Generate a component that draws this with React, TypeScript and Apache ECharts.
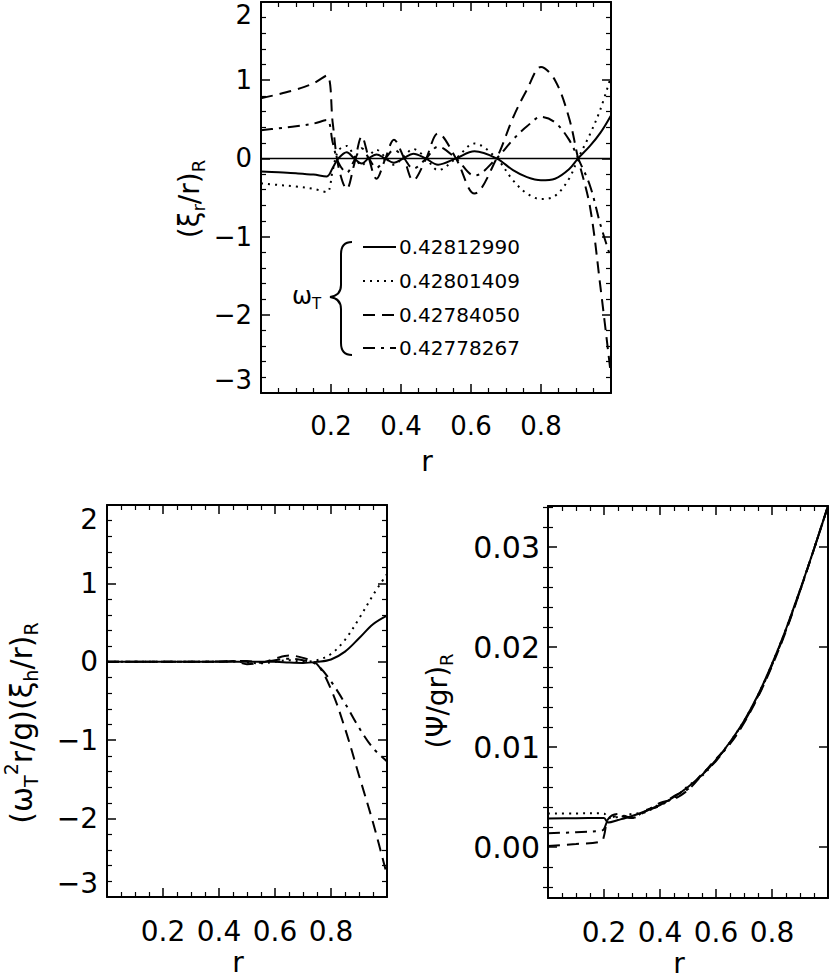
import React, { useEffect, useRef } from 'react';
import * as echarts from 'echarts';

const FONT = '"DejaVu Sans", "Liberation Sans", Arial, sans-serif';

// ---------- legend values (omega_T) ----------
const omegaLabels = ['0.42812990', '0.42801409', '0.42784050', '0.42778267'];

// ---------- top panel: (xi_r / r)_R ----------
const topR = [0, 0.05, 0.1, 0.15, 0.188, 0.205, 0.221, 0.245, 0.266, 0.288, 0.307, 0.33, 0.354, 0.38, 0.407, 0.435, 0.47, 0.506, 0.557, 0.61, 0.673, 0.72, 0.76, 0.8, 0.84, 0.88, 0.906, 0.94, 0.97, 1.0];
const topSolid = [-0.167, -0.178, -0.19, -0.207, -0.23, -0.12, 0.0, 0.08, 0.0, -0.065, 0.0, 0.05, 0.0, -0.055, 0.0, 0.06, 0.0, -0.08, 0.0, 0.09, 0.0, -0.15, -0.24, -0.28, -0.26, -0.14, 0.0, 0.16, 0.33, 0.55];
const topDotted = [-0.32, -0.34, -0.36, -0.39, -0.43, -0.15, 0.1, 0.16, 0.03, -0.09, 0.02, 0.11, 0.02, -0.08, 0.02, 0.12, 0.01, -0.15, 0.0, 0.19, 0.0, -0.28, -0.45, -0.52, -0.48, -0.26, 0.0, 0.31, 0.63, 1.05];
const topDashed = [0.77, 0.82, 0.88, 0.96, 1.06, 0.45, -0.1, -0.39, -0.08, 0.28, 0.02, -0.26, -0.02, 0.24, 0.02, -0.28, -0.02, 0.32, 0.0, -0.45, 0.0, 0.52, 0.88, 1.17, 1.0, 0.52, 0.0, -0.62, -1.65, -2.78];
const topDashDot = [0.36, 0.385, 0.41, 0.445, 0.49, 0.2, -0.05, -0.18, -0.03, 0.13, 0.01, -0.12, -0.01, 0.11, 0.01, -0.13, -0.01, 0.15, 0.0, -0.22, 0.0, 0.24, 0.41, 0.53, 0.46, 0.24, 0.0, -0.35, -0.85, -1.28];
const zeroLineR = [0, 1];
const zeroLineV = [0, 0];

// ---------- bottom-left: (omega_T^2 r/g)(xi_h/r)_R ----------
const botLR = [0, 0.1, 0.2, 0.3, 0.4, 0.45, 0.5, 0.55, 0.6, 0.65, 0.7, 0.75, 0.8, 0.85, 0.9, 0.95, 1.0];
const botLSolid = [0, 0, 0, 0, 0, 0, 0, 0, 0, -0.01, -0.015, 0.0, 0.03, 0.13, 0.3, 0.48, 0.59];
const botLDotted = [0, 0, 0, 0, 0, 0.005, -0.01, -0.02, 0.0, 0.02, 0.0, 0.02, 0.1, 0.28, 0.55, 0.85, 1.12];
const botLDashed = [0, 0, 0, 0, 0, 0.01, 0.01, -0.01, 0.04, 0.08, 0.05, -0.03, -0.35, -0.85, -1.45, -2.05, -2.72];
const botLDashDot = [0, 0, 0, 0, 0.005, 0.01, -0.03, -0.01, 0.02, 0.04, 0.02, -0.04, -0.25, -0.53, -0.84, -1.1, -1.27];

// ---------- bottom-right: (Psi/gr)_R ----------
const botRR = [0, 0.1, 0.19, 0.2, 0.215, 0.25, 0.3, 0.35, 0.4, 0.45, 0.5, 0.55, 0.6, 0.65, 0.7, 0.75, 0.8, 0.85, 0.9, 0.95, 1.0];
const botRSolid = [0.00285, 0.00288, 0.0029, 0.0029, 0.00245, 0.0027, 0.0031, 0.0036, 0.0042, 0.005, 0.006, 0.0072, 0.0087, 0.0105, 0.0126, 0.0152, 0.0183, 0.0218, 0.0257, 0.0298, 0.0341];
const botRDotted = [0.00335, 0.00336, 0.00337, 0.00336, 0.0029, 0.003, 0.0033, 0.0035, 0.0043, 0.0049, 0.0061, 0.0071, 0.0087, 0.0105, 0.0126, 0.0152, 0.0183, 0.0218, 0.0257, 0.0298, 0.0341];
const botRDashed = [0.0001, 0.0003, 0.00055, 0.0011, 0.0028, 0.0033, 0.0029, 0.0036, 0.0044, 0.0048, 0.0057, 0.0072, 0.0088, 0.0103, 0.0124, 0.015, 0.0181, 0.0216, 0.0256, 0.0298, 0.0341];
const botRDashDot = [0.00137, 0.00148, 0.00162, 0.0018, 0.0027, 0.0031, 0.0029, 0.0037, 0.0041, 0.0051, 0.0058, 0.0073, 0.0086, 0.0104, 0.0125, 0.0151, 0.0182, 0.0217, 0.0256, 0.0298, 0.0341];
const psiMajorTicks = [0, 0.01, 0.02, 0.03];
const psiMinorTicks = [-0.004, -0.002, 0.002, 0.004, 0.006, 0.008, 0.012, 0.014, 0.016, 0.018, 0.022, 0.024, 0.026, 0.028, 0.032, 0.034];

const DASHES: any[] = ['solid', [2, 5], [12, 7], [12, 6, 3, 6]];

const BRACE_D =
  'M 352 242 C 344 242 341 246 341 254 L 341 285 C 341 292 337 296 330 297 C 337 298 341 302 341 309 L 341 343 C 341 351 344 355 352 355';
let braceDone = false;
function ensureBrace() {
  if (braceDone) return;
  echarts.graphic.registerShape('omegaBrace', echarts.graphic.extendPath(BRACE_D, {}) as any);
  braceDone = true;
}

const pairs = (xs: number[], ys: number[]) => xs.map((x, i) => [x, ys[i]]);
const minus = (v: number) => (v < 0 ? '\u2212' + Math.abs(v) : String(v));

const lineCommon = { color: '#000', width: 2 };
const tickLine = { color: '#000', width: 1.5 };

function xAxes(gridIndex: number, fontSize: number, nameGap: number, nameSize: number) {
  const common: any = {
    type: 'value', gridIndex, min: 0, max: 1, interval: 0.2,
    axisLine: { show: true, onZero: false, lineStyle: lineCommon },
    axisTick: { show: true, inside: true, length: 9, lineStyle: tickLine },
    minorTick: { show: true, splitNumber: 4, length: 5, lineStyle: { color: '#000', width: 1.2 } },
    splitLine: { show: false }, minorSplitLine: { show: false },
  };
  return [
    {
      ...common, position: 'bottom', name: 'r', nameLocation: 'middle', nameGap,
      nameTextStyle: { fontSize: nameSize, lineHeight: 24, fontFamily: FONT, color: '#000', padding: [0, 18, 0, 0] },
      axisLabel: {
        show: true, margin: 20, fontSize, fontFamily: FONT, color: '#000',
        formatter: (v: number) => (v > 0.05 && v < 0.95 ? v.toFixed(1) : ''),
      },
    },
    { ...common, position: 'top', axisLabel: { show: false } },
  ];
}

function yAxesInt(gridIndex: number, fontSize: number, lineHeight: number) {
  const common: any = {
    type: 'value', gridIndex, min: -3, max: 2, interval: 1,
    axisLine: { show: true, onZero: false, lineStyle: lineCommon },
    axisTick: { show: true, inside: true, length: 9, lineStyle: tickLine },
    minorTick: { show: true, splitNumber: 5, length: 5, lineStyle: { color: '#000', width: 1.2 } },
    splitLine: { show: false }, minorSplitLine: { show: false },
  };
  return [
    {
      ...common, position: 'left',
      axisLabel: {
        show: true, margin: 9, fontSize, lineHeight, fontFamily: FONT, color: '#000',
        formatter: minus,
        verticalAlignMaxLabel: 'top', verticalAlignMinLabel: 'bottom',
      },
    },
    { ...common, position: 'right', axisLabel: { show: false } },
  ];
}

function yAxesPsi(gridIndex: number, fontSize: number) {
  const common: any = {
    type: 'value', gridIndex, min: -0.0051, max: 0.0341,
    splitLine: { show: false }, minorSplitLine: { show: false }, minorTick: { show: false },
  };
  return [
    {
      ...common, position: 'left',
      axisLine: { show: true, onZero: false, lineStyle: lineCommon },
      axisTick: { show: true, inside: true, length: 9, lineStyle: tickLine, customValues: psiMajorTicks },
      axisLabel: { show: true, margin: 8, fontSize, fontFamily: FONT, color: '#000', customValues: psiMajorTicks, formatter: (v: number) => v.toFixed(2) },
    },
    {
      ...common, position: 'right',
      axisLine: { show: true, onZero: false, lineStyle: lineCommon },
      axisTick: { show: true, inside: true, length: 9, lineStyle: tickLine, customValues: psiMajorTicks },
      axisLabel: { show: false },
    },
    {
      ...common, position: 'left',
      axisLine: { show: false },
      axisTick: { show: true, inside: true, length: 5, lineStyle: { color: '#000', width: 1.2 }, customValues: psiMinorTicks },
      axisLabel: { show: false },
    },
    {
      ...common, position: 'right',
      axisLine: { show: false },
      axisTick: { show: true, inside: true, length: 5, lineStyle: { color: '#000', width: 1.2 }, customValues: psiMinorTicks },
      axisLabel: { show: false },
    },
  ];
}

function curve(name: string, xs: number[], ys: number[], k: number, xi: number, yi: number, width = 2) {
  return {
    name, type: 'line', xAxisIndex: xi, yAxisIndex: yi, data: pairs(xs, ys),
    symbol: 'none', showSymbol: false, smooth: 0.35, clip: true, silent: true,
    lineStyle: { color: '#000', width, type: DASHES[k], cap: 'butt' },
    z: 3,
  };
}

function titleRich(size: number) {
  const sub = Math.round(size * 0.64);
  const lh = Math.round(size * 1.3);
  return {
    m: { fontSize: size, fontFamily: FONT, fill: '#000', lineHeight: lh, verticalAlign: 'middle' },
    b: { fontSize: sub, fontFamily: FONT, fill: '#000', lineHeight: sub, verticalAlign: 'bottom' },
    t: { fontSize: sub, fontFamily: FONT, fill: '#000', lineHeight: sub, verticalAlign: 'top' },
  };
}

function rotTitle(text: string, x: number, y: number, size: number) {
  return {
    type: 'text', x, y, rotation: Math.PI / 2, silent: true,
    style: { text, rich: titleRich(size), align: 'center', verticalAlign: 'middle', fontSize: size, fontFamily: FONT, fill: '#000' },
  };
}

export default function App() {
  const ref = useRef<HTMLDivElement>(null);
  useEffect(() => {
    document.body.style.margin = '0';
    ensureBrace();
    const chart = echarts.init(ref.current!, null, { renderer: 'svg' });
    const legendRows = [247, 281, 315, 348];
    const graphicEls: any[] = [
      { type: 'omegaBrace', x: 0, y: 0, silent: true, style: { stroke: '#000', fill: 'none', lineWidth: 2 } },
      {
        type: 'text', x: 292, y: 296, silent: true,
        style: {
          text: '{m|\u03c9}{b|T}',
          rich: {
            m: { fontSize: 24, fontFamily: FONT, fill: '#000', lineHeight: 30, verticalAlign: 'middle' },
            b: { fontSize: 15, fontFamily: FONT, fill: '#000', lineHeight: 15, verticalAlign: 'bottom' },
          },
          align: 'left', verticalAlign: 'middle',
        },
      },
      rotTitle('{m|(\u03be}{b|r}{m|/r)}{b|R}', 189, 199, 28),
      rotTitle('{m|(\u03c9}{b|T}{t|2}{m|r/g)(\u03be}{b|h}{m|/r)}{b|R}', 21, 723, 30),
      rotTitle('{m|(\u03a8/gr)}{b|R}', 437, 701, 28),
    ];
    legendRows.forEach((y, i) => {
      graphicEls.push({
        type: 'line', silent: true,
        shape: { x1: 363, y1: y, x2: 396, y2: y },
        style: { stroke: '#000', lineWidth: 2, lineDash: i === 0 ? null : DASHES[i] },
      });
      graphicEls.push({
        type: 'text', x: 399, y, silent: true,
        style: { text: omegaLabels[i], fontSize: 20, fontFamily: FONT, fill: '#000', align: 'left', verticalAlign: 'middle' },
      });
    });

    const series: any[] = [
      { name: 'zero', type: 'line', xAxisIndex: 0, yAxisIndex: 0, data: pairs(zeroLineR, zeroLineV), symbol: 'none', silent: true, lineStyle: { color: '#000', width: 1.5 }, z: 2 },
      curve(omegaLabels[0], topR, topSolid, 0, 0, 0),
      curve(omegaLabels[1], topR, topDotted, 1, 0, 0),
      curve(omegaLabels[2], topR, topDashed, 2, 0, 0),
      curve(omegaLabels[3], topR, topDashDot, 3, 0, 0),
      curve(omegaLabels[0], botLR, botLSolid, 0, 2, 2),
      curve(omegaLabels[1], botLR, botLDotted, 1, 2, 2),
      curve(omegaLabels[2], botLR, botLDashed, 2, 2, 2),
      curve(omegaLabels[3], botLR, botLDashDot, 3, 2, 2),
      curve(omegaLabels[0], botRR, botRSolid, 0, 4, 4),
      curve(omegaLabels[1], botRR, botRDotted, 1, 4, 4),
      curve(omegaLabels[2], botRR, botRDashed, 2, 4, 4),
      curve(omegaLabels[3], botRR, botRDashDot, 3, 4, 4),
    ];

    chart.setOption({
      animation: false,
      backgroundColor: '#fff',
      grid: [
        { left: 261, top: 2, width: 350, height: 391, containLabel: false, outerBoundsMode: 'none' },
        { left: 107, top: 505, width: 280, height: 392, containLabel: false, outerBoundsMode: 'none' },
        { left: 548, top: 506, width: 280, height: 392, containLabel: false, outerBoundsMode: 'none' },
      ],
      xAxis: [...xAxes(0, 26, 56, 28), ...xAxes(1, 28, 53, 28), ...xAxes(2, 28, 53, 28)],
      yAxis: [...yAxesInt(0, 26, 26), ...yAxesInt(1, 28, 28), ...yAxesPsi(2, 30)],
      series,
      graphic: { elements: graphicEls },
    } as any);
    return () => chart.dispose();
  }, []);
  return <div ref={ref} style={{ width: 830, height: 979 }} />;
}
